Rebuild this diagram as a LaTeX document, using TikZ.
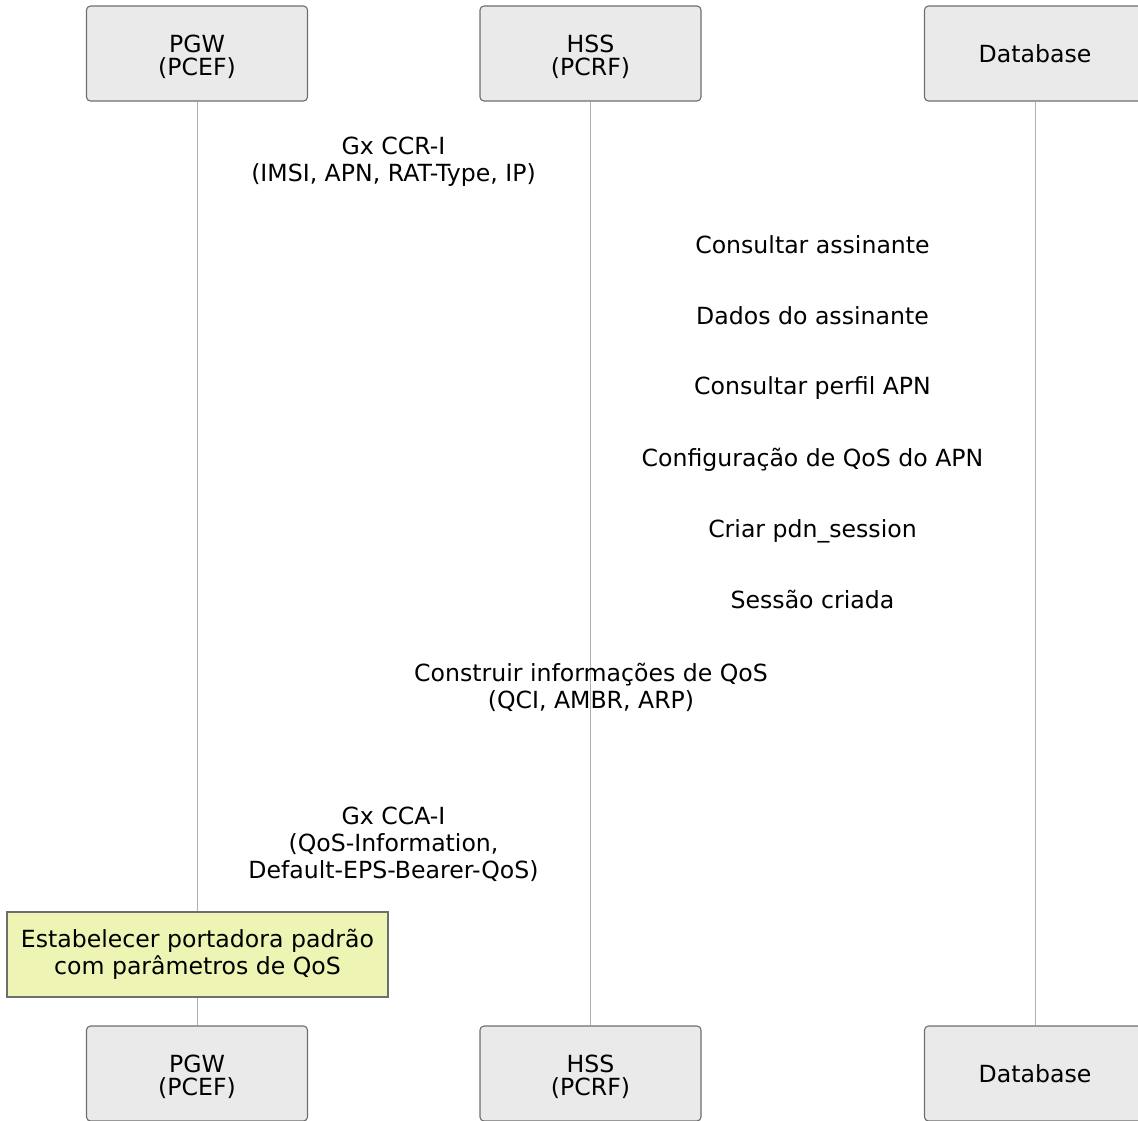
\documentclass[tikz,border=0pt]{standalone}
\usepackage{fontspec}
\setmainfont{DejaVu Sans}
\definecolor{actorfill}{RGB}{234,234,234}
\definecolor{actorline}{RGB}{110,110,110}
\definecolor{lifegray}{RGB}{175,175,175}
\definecolor{notefill}{RGB}{238,244,180}
\begin{document}
\begin{tikzpicture}[x=1pt,y=-1pt,
  actor/.style={draw=actorline,fill=actorfill,line width=1.1pt,rounded corners=4pt,
    minimum width=221pt,minimum height=95pt,inner sep=0pt,align=center,font=\fontsize{23.6}{23}\selectfont},
  lifeline/.style={draw=lifegray,line width=1pt},
  msg/.style={inner sep=0pt,align=center,anchor=base,font=\fontsize{23.6}{27}\selectfont},
  notebox/.style={draw=actorline,fill=notefill,line width=1.1pt,minimum width=381pt,
    minimum height=85pt,inner sep=0pt,align=center,font=\fontsize{23.6}{27}\selectfont}]
  \clip (0,0) rectangle (1138,1120);
  \useasboundingbox (0,0) rectangle (1138,1120);
  % actors, top and bottom, with lifelines
  \foreach \name/\x/\txt/\th in {pgw/197/{PGW\\(PCEF)}/47,hss/590.5/{HSS\\(PCRF)}/47,db/1035/Database/18} {
    \node[actor,text height=\th pt] (\name) at (\x,53.5) {\txt};
    \node[actor,text height=\th pt] (\name-b) at (\x,1073.5) {\txt};
    \draw[lifeline] (\name) -- (\name-b);
  }
  % messages (base = last line)
  \node[msg] (ccr) at (393.5,181) {Gx CCR-I\\(IMSI, APN, RAT-Type, IP)};
  \foreach \y/\txt [count=\i] in {253/Consultar assinante,324/Dados do assinante,
      394/Consultar perfil APN,466/Configuração de QoS do APN,
      537/Criar pdn\_session,608/Sessão criada}
    \node[msg] (db\i) at (812.5,\y) {\txt};
  \node[msg] (build) at (591,708) {Construir informações de QoS\\(QCI, AMBR, ARP)};
  \node[msg] (cca) at (393.5,878) {Gx CCA-I\\(QoS-Information,\\Default-EPS-Bearer-QoS)};
  % note over PGW
  \node[notebox] (bearer) at (197.5,954.5) {Estabelecer portadora padrão\\com parâmetros de QoS};
\end{tikzpicture}
\end{document}
